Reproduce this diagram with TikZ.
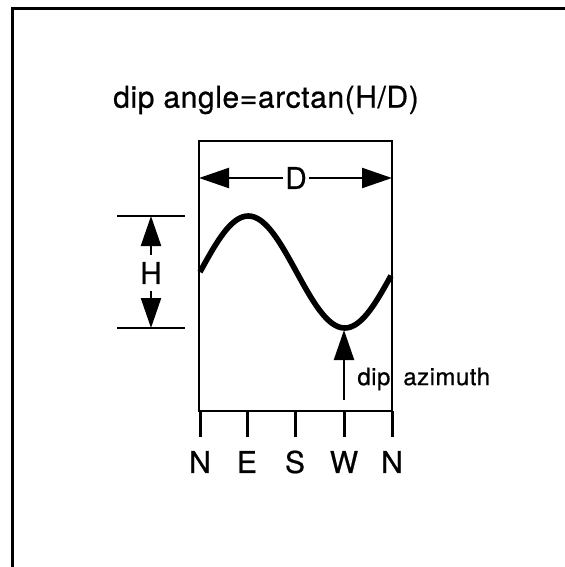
\documentclass[tikz,border=0pt]{standalone}
\usepackage{fontspec}
\setmainfont{TeX Gyre Heros}[FakeBold=0.6, LetterSpace=2]
\usetikzlibrary{arrows.meta, calc}
\newcommand\azfont{\fontsize{12}{15}\selectfont\spaceskip=6.5pt\relax}

\begin{document}
\begin{tikzpicture}[
    x=0.5pt, y=-0.5pt,
    lbl/.style={font=\fontsize{15}{18}\selectfont},
    thinline/.style={line width=1.1pt},
    dimarrow/.style={-{Triangle[length=15pt,width=10pt]}, line width=1.1pt},
    wave/.style={line width=2.8pt},
    tickline/.style={line width=1.5pt}
]
\useasboundingbox (0,0) rectangle (565,567);

% frame (left and top only)
\draw[line width=1.6pt] (12.5,567) -- (12.5,8.5) -- (565,8.5);

% title
\node[lbl] (title) at (266,100) {dip angle=arctan(H/D)};

% box
\coordinate (nw) at (199,141);
\coordinate (se) at (392,411);
\draw[thinline] (nw) rectangle (se);

% D dimension
\node[lbl, fill=white, inner sep=1pt] (D) at (296,178) {D};
\draw[dimarrow] (D) -- (D -| nw);
\draw[dimarrow] (D) -- (D -| se);

% H dimension
\coordinate (Htop) at (151,216);
\coordinate (Hbot) at (151,328);
\draw[thinline] (117,216) -- (185,216);
\draw[thinline] (117,328) -- (185,328);
\node[lbl] (H) at (151,273) {H};
\draw[dimarrow] (H) -- (Htop);
\draw[dimarrow] (H) -- (Hbot);

% trace
\draw[wave, domain=0:191, samples=80, smooth]
    plot ({200+\x}, {272-56*sin(1.8653*\x)});

% dip azimuth
\coordinate (trough) at (344,330);
\coordinate (azbase) at (344,400);
\draw[dimarrow] (azbase) -- (trough);
\node[font=\azfont, anchor=west, inner sep=0pt] (az) at (357,379) {dip azimuth};

% ticks and directions
\foreach \x/\d [count=\i] in {200/N,247/E,295/S,344/W,392/N} {
    \draw[tickline] (\x,411) -- (\x,437);
    \node[lbl] (dir\i) at (\x,462) {\d};
}

\end{tikzpicture}
\end{document}
